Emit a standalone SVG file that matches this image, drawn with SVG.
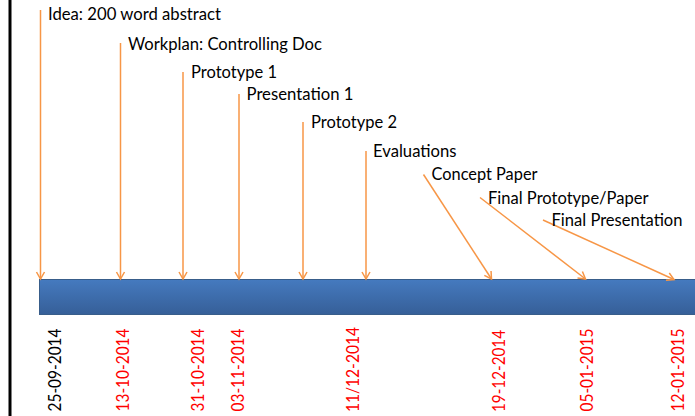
<svg xmlns="http://www.w3.org/2000/svg" width="695" height="416" viewBox="0 0 695 416">
<style>
.lbl{font-family:Lato,"Liberation Sans",Arial,sans-serif;font-size:16.5px;fill:#000}
.date{font-family:Lato,"Liberation Sans",Arial,sans-serif;font-size:16.5px;fill:#FF0000}
.blk{fill:#000}
.conn line{stroke:#F79646;stroke-width:1.5;fill:none;marker-end:url(#arr)}
</style>
<defs>
<marker id="arr" markerUnits="userSpaceOnUse" markerWidth="12" markerHeight="12" refX="8" refY="5" orient="auto" viewBox="0 0 12 10">
<path d="M1,1 L8,5 L1,9" fill="none" stroke="#F79646" stroke-width="1.5"/>
</marker>
<linearGradient id="barg" x1="0" y1="0" x2="0" y2="1">
<stop offset="0" stop-color="#457ABF"/>
<stop offset="1" stop-color="#365F98"/>
</linearGradient>
</defs>
<rect width="695" height="416" fill="#fff"/>
<line x1="10" y1="0" x2="10" y2="416" stroke="#000" stroke-width="3"/>
<g id="timeline-bar">
<rect x="39.5" y="279.5" width="670" height="35" fill="url(#barg)" stroke="#385D8A" stroke-width="1"/>
</g>
<g id="connectors" class="conn">
<line x1="40.5" y1="10" x2="40.5" y2="279"/>
<line x1="120.5" y1="43" x2="120.5" y2="279"/>
<line x1="183" y1="72" x2="183" y2="279"/>
<line x1="239" y1="94" x2="239" y2="279"/>
<line x1="303" y1="122" x2="303" y2="279"/>
<line x1="366" y1="151" x2="366" y2="279"/>
<line x1="423.5" y1="174.5" x2="491.5" y2="279"/>
<line x1="480" y1="197.5" x2="585.5" y2="279"/>
<line x1="543" y1="220" x2="674" y2="279.5"/>
</g>
<g id="n-idea"><text class="lbl" x="48" y="20" textLength="173" lengthAdjust="spacingAndGlyphs">Idea: 200 word abstract</text></g>
<g id="n-workplan"><text class="lbl" x="128" y="49.5" textLength="194" lengthAdjust="spacingAndGlyphs">Workplan: Controlling Doc</text></g>
<g id="n-proto1"><text class="lbl" x="191" y="78.3" textLength="86" lengthAdjust="spacingAndGlyphs">Prototype 1</text></g>
<g id="n-pres1"><text class="lbl" x="246.5" y="100" textLength="107" lengthAdjust="spacingAndGlyphs">Presentation 1</text></g>
<g id="n-proto2"><text class="lbl" x="311" y="128.3" textLength="86" lengthAdjust="spacingAndGlyphs">Prototype 2</text></g>
<g id="n-eval"><text class="lbl" x="373" y="157.3" textLength="83.5" lengthAdjust="spacingAndGlyphs">Evaluations</text></g>
<g id="n-concept"><text class="lbl" x="431.5" y="180" textLength="106" lengthAdjust="spacingAndGlyphs">Concept Paper</text></g>
<g id="n-finalproto"><text class="lbl" x="488" y="204.3" textLength="160.5" lengthAdjust="spacingAndGlyphs">Final Prototype/Paper</text></g>
<g id="n-finalpres"><text class="lbl" x="551.5" y="225.7" textLength="131" lengthAdjust="spacingAndGlyphs">Final Presentation</text></g>
<g id="dates">
<text class="date blk" transform="translate(61,411.5) rotate(-90)" textLength="83" lengthAdjust="spacingAndGlyphs">25-09-2014</text>
<text class="date" transform="translate(128.5,411.5) rotate(-90)" textLength="83" lengthAdjust="spacingAndGlyphs">13-10-2014</text>
<text class="date" transform="translate(203.5,411.5) rotate(-90)" textLength="83" lengthAdjust="spacingAndGlyphs">31-10-2014</text>
<text class="date" transform="translate(243.5,411.5) rotate(-90)" textLength="83" lengthAdjust="spacingAndGlyphs">03-11-2014</text>
<text class="date" transform="translate(359,412) rotate(-90)" textLength="85" lengthAdjust="spacingAndGlyphs">11/12-2014</text>
<text class="date" transform="translate(505,412) rotate(-90)" textLength="82" lengthAdjust="spacingAndGlyphs">19-12-2014</text>
<text class="date" transform="translate(592.5,411.5) rotate(-90)" textLength="83" lengthAdjust="spacingAndGlyphs">05-01-2015</text>
<text class="date" transform="translate(683.5,411.5) rotate(-90)" textLength="83" lengthAdjust="spacingAndGlyphs">12-01-2015</text>
</g>
</svg>
